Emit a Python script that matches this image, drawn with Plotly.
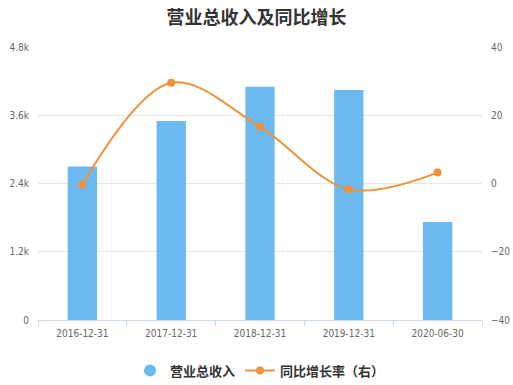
import plotly.graph_objects as go

categories = ["2016-12-31", "2017-12-31", "2018-12-31", "2019-12-31", "2020-06-30"]
revenue = [2700, 3500, 4100, 4045, 1725]
growth = [-0.3, 29.5, 16.6, -1.7, 3.2]
left_ticks = [0, 1200, 2400, 3600, 4800]
left_labels = ["0", "1.2k", "2.4k", "3.6k", "4.8k"]
right_ticks = [-40, -20, 0, 20, 40]

blue = "#6cb8f0"
orange = "#f0913a"
tick_font = dict(family="DejaVu Sans Condensed, Liberation Sans Narrow, Liberation Sans", size=10, color="#666666")

fig = go.Figure()
fig.add_trace(go.Bar(x=categories, y=revenue, marker_color=blue, width=0.33,
                     marker_line_width=0,
                     name="营业总收入", showlegend=False, yaxis="y"))
fig.add_trace(go.Scatter(x=[None], y=[None], mode="markers",
                         marker=dict(symbol="circle", size=12, color=blue),
                         name="营业总收入", showlegend=True))
fig.add_trace(go.Scatter(x=categories, y=growth, mode="lines+markers", yaxis="y2",
                         line=dict(color=orange, width=2, shape="spline", smoothing=1.0),
                         marker=dict(size=8, color=orange),
                         name="同比增长率（右）"))

fig.update_layout(
    width=513, height=385,
    margin=dict(l=38, r=31, t=47, b=65, autoexpand=False),
    paper_bgcolor="white", plot_bgcolor="white",
    title=dict(text="<b>营业总收入及同比增长</b>", x=0.5, xanchor="center", y=0.953, yanchor="middle",
               font=dict(family="Noto Sans CJK SC", size=18, color="#333333")),
    xaxis=dict(type="category", tickfont=tick_font, showgrid=False, automargin=False,
               showline=True, linecolor="#ccd6eb", linewidth=1,
               ticks="outside", tickson="boundaries", ticklen=5, tickcolor="#ccd6eb",
               ticklabelstandoff=4, range=[-0.5, 4.5]),
    yaxis=dict(range=[0, 4800], tickvals=left_ticks, ticktext=left_labels, tickfont=tick_font,
               automargin=False,
               showgrid=True, gridcolor="#e6e6e6", zeroline=False, showline=False, ticklabelstandoff=8),
    yaxis2=dict(range=[-40, 40], tickvals=right_ticks, tickfont=tick_font, overlaying="y", side="right",
                automargin=False,
                showgrid=False, zeroline=False, showline=False, ticklabelstandoff=8),
    legend=dict(orientation="h", x=0.5, xanchor="center", y=-0.185, yanchor="middle",
                font=dict(family="Noto Sans CJK SC", size=13, color="#333333", weight="bold"),
                itemwidth=30, traceorder="normal"),
)

fig.write_html("out.html", config={"displayModeBar": False},
               post_script="document.body.style.margin='0';document.body.style.overflow='hidden';")
